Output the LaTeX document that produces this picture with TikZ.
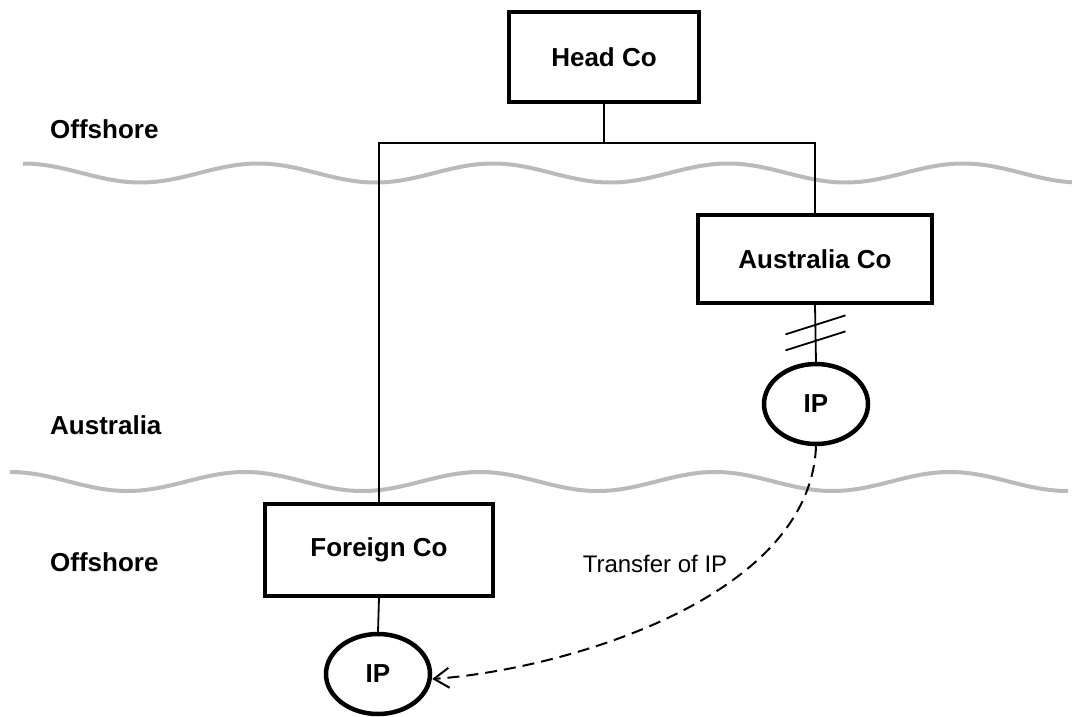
\documentclass[tikz,border=0pt]{standalone}
\usepackage{fontspec}
\setmainfont{Liberation Sans}
\usetikzlibrary{shapes.geometric,arrows.meta,calc}
\begin{document}
\begin{tikzpicture}[x=1pt,y=-1pt,
        box/.style={draw,line width=4pt,inner sep=0pt,
            font=\fontsize{26}{30}\selectfont\bfseries},
        ip/.style={draw,ellipse,line width=4.5pt,inner sep=0pt,
            minimum width=104pt,minimum height=80pt,
            font=\fontsize{26}{30}\selectfont\bfseries},
        zone/.style={anchor=west,inner sep=0pt,
            font=\fontsize{26}{30}\selectfont\bfseries},
        wave/.style={line width=4pt,color=black!27,samples=300},
        link/.style={line width=1.8pt},
        transfer/.style={line width=2pt,dash pattern=on 12pt off 7pt,
            -{Straight Barb[length=15pt,width=20pt]}}]
    \useasboundingbox (0,0) rectangle (1072,716);

    \draw[wave,domain=23:1072]  plot (\x,{173-9.5*cos((\x-23)/235*360)});
    \draw[wave,domain=10:1068]  plot (\x,{481.5-9.5*cos((\x-10)/235*360)});

	\node[zone] (offtop) at (50,129) {Offshore};
	\node[zone] (aus) at (50,425) {Australia};
	\node[zone] (offbot) at (50,562) {Offshore};

\node[box,minimum width=190pt,minimum height=90pt] (headco) at (604,57) {Head Co};
\node[box,minimum width=234pt,minimum height=88pt] (auco) at (815,259) {Australia Co};
\node[box,minimum width=228pt,minimum height=92pt] (forco) at (379,550) {Foreign Co};
\node[ip] (ipau) at (816,404) {IP};
\node[ip] (ipfor) at (378,674) {IP};
\node[font=\fontsize{24}{28}\selectfont] (transferlbl) at (655,564) {Transfer of IP};

    \coordinate (bar) at (602,143);
\draw[link] (headco.south) -- (headco.south |- bar);
\draw[link] (forco.north) |- (bar) -| (auco.north);
\draw[link] (auco.south) -- (ipau.north);
\draw[link] (forco.south) -- (ipfor.north);

    \coordinate (cut) at ($(auco.south)!0.5!(ipau.north)$);
\draw[link] ([shift={(-30,1)}]cut) -- ([shift={(30,-18)}]cut);
\draw[link] ([shift={(-30,17)}]cut) -- ([shift={(30,-2)}]cut);

\draw[transfer] (ipau.south) .. controls (810,600) and (560,670) .. ([yshift=-5pt]ipfor.east);
\end{tikzpicture}
\end{document}
